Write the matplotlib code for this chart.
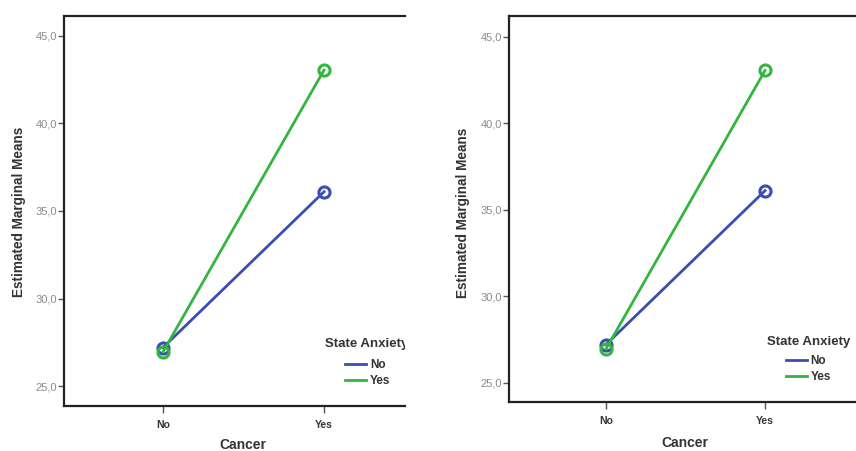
import matplotlib
matplotlib.use('Agg')
import matplotlib.pyplot as plt
from matplotlib.ticker import FuncFormatter

plt.rcParams['font.family'] = ['Liberation Sans', 'DejaVu Sans']

# estimated marginal means
cancer = ['No', 'Yes']
anxiety_no = [27.2, 36.1]
anxiety_yes = [26.95, 43.05]
yticks = [25, 30, 35, 40, 45]

blue = '#3a4db3'
green = '#33b540'

fig = plt.figure(figsize=(8.56, 4.51), dpi=100)

# axes boxes in figure fractions, right spines are cut off in the source
panels = [
    dict(rect=[64/856, 1-406/451, 341/856, 390/451], xlim=(-0.615, 1.503),
         ylim=(23.86, 46.14), ylab=(-0.112, 0.497), xlab=(0.525, -0.083),
         title=(0.765, 0.159), leg=(0.824, 0.12)),
    dict(rect=[509/856, 1-402/451, 347/856, 386/451], xlim=(-0.61, 1.572),
         ylim=(23.88, 46.2), ylab=(-0.112, 0.49), xlab=(0.507, -0.088),
         title=(0.744, 0.155), leg=(0.798, 0.121)),
]

for p in panels:
    ax = fig.add_axes(p['rect'])
    x = list(range(len(cancer)))
    ax.plot(x, anxiety_no, color=blue, lw=2.0, marker='o', ms=8,
            mfc='none', mec=blue, mew=2.2, label='No', zorder=3)
    ax.plot(x, anxiety_yes, color=green, lw=2.0, marker='o', ms=8,
            mfc='none', mec=green, mew=2.2, label='Yes', zorder=4)
    ax.set_xlim(*p['xlim'])
    ax.set_ylim(*p['ylim'])
    ax.set_xticks(x)
    ax.set_xticklabels(cancer, fontsize=7.5, fontweight='bold', color='#333333')
    ax.set_yticks(yticks)
    ax.yaxis.set_major_formatter(FuncFormatter(lambda v, pos: ('%.1f' % v).replace('.', ',')))
    ax.tick_params(axis='y', labelsize=8, labelcolor='#8a8a8a', color='#555555',
                   length=4, width=1, pad=1)
    ax.tick_params(axis='x', color='#555555', length=5, width=1, pad=5)
    for s in ['top', 'left', 'bottom']:
        ax.spines[s].set_linewidth(1.6)
        ax.spines[s].set_color('#222222')
    ax.spines['right'].set_visible(False)

    ax.set_ylabel('Estimated Marginal Means', fontsize=9.8, fontweight='bold', color='#333333')
    ax.yaxis.set_label_coords(*p['ylab'])
    ax.set_xlabel('Cancer', fontsize=10, fontweight='bold', color='#333333')
    ax.xaxis.set_label_coords(*p['xlab'])

    # legend title as its own text so it can sit left of the entries
    ax.text(p['title'][0], p['title'][1], 'State Anxiety', transform=ax.transAxes,
            fontsize=9.5, fontweight='bold', color='#333333', ha='left', va='center',
            clip_on=True)

    leg = ax.legend(loc='upper left', bbox_to_anchor=p['leg'],
                    frameon=False, fontsize=8.5, handlelength=1.8, handletextpad=0.3,
                    borderaxespad=0, borderpad=0, labelspacing=0.3)
    for t in leg.get_texts():
        t.set_fontweight('bold')
        t.set_color('#333333')
    for h in leg.legend_handles:
        h.set_marker('')

fig.savefig('out.png', dpi=100)
